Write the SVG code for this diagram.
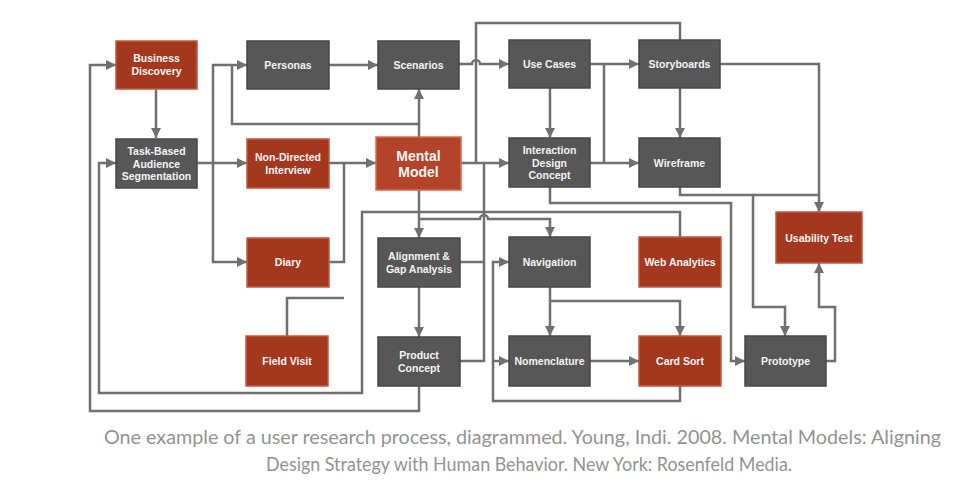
<svg xmlns="http://www.w3.org/2000/svg" width="955" height="491" viewBox="0 0 955 491">
<style>
.red rect{fill:#A4381F;stroke:#C5573C;stroke-width:1.5}
.mm rect{fill:#B3442A;stroke:#DE6A4E;stroke-width:1.5}
.gray rect{fill:#575757;stroke:#474747;stroke-width:1.5}
.node text{font-family:"Liberation Sans",Arial,sans-serif;font-weight:bold;font-size:10.5px;fill:#F4F4F4;text-anchor:middle}
.mm text{font-size:14px}
#connectors path{fill:none;stroke:#707070;stroke-width:2.5;stroke-linejoin:miter}
.arr{marker-end:url(#ah)}
.cap{font-family:Lato,"Open Sans",sans-serif;font-size:19.5px;fill:#939393}
</style>
<defs>
<marker id="ah" markerUnits="userSpaceOnUse" markerWidth="10" markerHeight="10" viewBox="0 0 10 10" refX="10" refY="5" orient="auto">
<path d="M0,0 L10,5 L0,10 z" fill="#707070"/>
</marker>
</defs>
<rect width="955" height="491" fill="#FFFFFF"/>
<g id="connectors">
<path class="arr" d="M156,89 V138"/>
<path class="arr" d="M197,163 H247"/>
<path class="arr" d="M213,163 V65 H247"/>
<path class="arr" d="M213,163 V262 H247"/>
<path class="arr" d="M329,65 H378"/>
<path class="arr" d="M419,137 V89"/>
<path d="M419,124 H232 V65"/>
<path class="arr" d="M329,163 H376"/>
<path d="M329,262 H344 V163"/>
<path d="M287,336 V298 H344"/>
<path class="arr" d="M459,64 H472 A4,4 0 0 1 480,64 H509"/>
<path d="M680,40 V23 H476 V163"/>
<path class="arr" d="M461,163 H509"/>
<path class="arr" d="M550,88 V138"/>
<path class="arr" d="M590,64 H639"/>
<path class="arr" d="M590,163 H639"/>
<path d="M604,64 V163"/>
<path class="arr" d="M680,88 V138"/>
<path class="arr" d="M720,64 H819 V212"/>
<path d="M680,187 V195 H819"/>
<path class="arr" d="M753,195 V307 H785 V336"/>
<path class="arr" d="M826,361 H835 V307 H819 V263"/>
<path class="arr" d="M550,187 V203 H731 V361 H745"/>
<path class="arr" d="M419,190 V238"/>
<path class="arr" d="M419,219 H480 A4,4 0 0 1 488,219 H550 V237"/>
<path class="arr" d="M680,237 V212 H362 V393 H99 V163 H116"/>
<path class="arr" d="M419,386 V411 H90 V65 H116"/>
<path class="arr" d="M419,287 V337"/>
<path d="M460,262 H484"/>
<path d="M460,361 H484 V163"/>
<path class="arr" d="M550,287 V336"/>
<path class="arr" d="M550,301 H680 V336"/>
<path class="arr" d="M590,361 H639"/>
<path class="arr" d="M680,386 V401 H493 V262 H509"/>
<path class="arr" d="M493,361 H509"/>
</g>
<g id="business-discovery" class="node red"><rect x="116" y="41" width="81" height="48"/><text x="156.5" y="62">Business</text><text x="156.5" y="75">Discovery</text></g>
<g id="personas" class="node gray"><rect x="247" y="41" width="82" height="48"/><text x="288" y="69">Personas</text></g>
<g id="scenarios" class="node gray"><rect x="378" y="41" width="81" height="48"/><text x="418.5" y="69">Scenarios</text></g>
<g id="use-cases" class="node gray"><rect x="509" y="40" width="81" height="48"/><text x="549.5" y="68">Use Cases</text></g>
<g id="storyboards" class="node gray"><rect x="639" y="40" width="81" height="48"/><text x="679.5" y="68">Storyboards</text></g>
<g id="task-based" class="node gray"><rect x="116" y="139" width="81" height="49"/><text x="156.5" y="155">Task-Based</text><text x="156.5" y="167.5">Audience</text><text x="156.5" y="180">Segmentation</text></g>
<g id="non-directed" class="node red"><rect x="247" y="139" width="82" height="49"/><text x="288" y="161">Non-Directed</text><text x="288" y="174">Interview</text></g>
<g id="mental-model" class="node mm"><rect x="376" y="137" width="85" height="53"/><text x="418.5" y="161">Mental</text><text x="418.5" y="177">Model</text></g>
<g id="interaction-design" class="node gray"><rect x="509" y="138" width="81" height="49"/><text x="549.5" y="154">Interaction</text><text x="549.5" y="166.5">Design</text><text x="549.5" y="179">Concept</text></g>
<g id="wireframe" class="node gray"><rect x="639" y="138" width="81" height="49"/><text x="679.5" y="166.5">Wireframe</text></g>
<g id="diary" class="node red"><rect x="247" y="238" width="82" height="49"/><text x="288" y="266">Diary</text></g>
<g id="alignment" class="node gray"><rect x="378" y="238" width="82" height="49"/><text x="419" y="260">Alignment &amp;</text><text x="419" y="273">Gap Analysis</text></g>
<g id="navigation" class="node gray"><rect x="509" y="237" width="81" height="50"/><text x="549.5" y="266">Navigation</text></g>
<g id="web-analytics" class="node red"><rect x="639" y="237" width="82" height="50"/><text x="680" y="266">Web Analytics</text></g>
<g id="usability-test" class="node red"><rect x="776" y="212" width="86" height="51"/><text x="819" y="241.5">Usability Test</text></g>
<g id="field-visit" class="node red"><rect x="246" y="336" width="82" height="50"/><text x="287" y="365">Field Visit</text></g>
<g id="product-concept" class="node gray"><rect x="378" y="337" width="82" height="49"/><text x="419" y="358.5">Product</text><text x="419" y="371.5">Concept</text></g>
<g id="nomenclature" class="node gray"><rect x="509" y="336" width="81" height="50"/><text x="549.5" y="365">Nomenclature</text></g>
<g id="card-sort" class="node red"><rect x="639" y="336" width="82" height="50"/><text x="680" y="365">Card Sort</text></g>
<g id="prototype" class="node gray"><rect x="745" y="336" width="81" height="50"/><text x="785.5" y="365">Prototype</text></g>
<g id="caption">
<text class="cap" x="104" y="444" textLength="837" lengthAdjust="spacingAndGlyphs">One example of a user research process, diagrammed. Young, Indi. 2008. Mental Models: Aligning</text>
<text class="cap" x="266" y="471" textLength="526" lengthAdjust="spacingAndGlyphs">Design Strategy with Human Behavior. New York: Rosenfeld Media.</text>
</g>
</svg>
